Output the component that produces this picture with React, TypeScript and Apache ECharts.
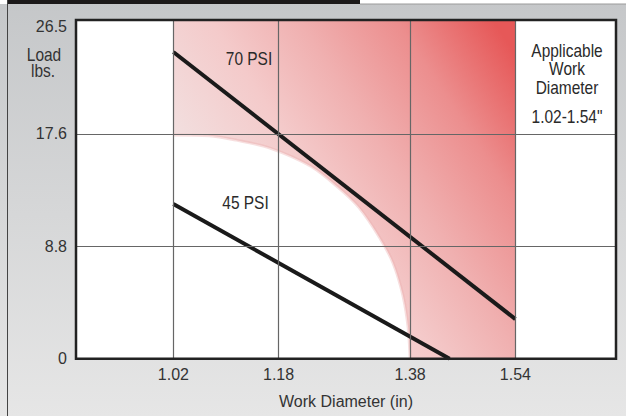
import React, { useEffect, useRef } from "react";
import * as echarts from "echarts";

const X_TICKS = [1.02, 1.18, 1.38, 1.54];
const Y_TICKS = [0, 8.8, 17.6, 26.5];
const X_GRID = [1.02, 1.18, 1.38, 1.54];
const Y_GRID = [8.8, 17.6];
const RANGE = [1.02, 1.54];
const PSI70: number[][] = [[1.02, 24.0], [1.54, 3.1]];
const PSI45: number[][] = [[1.02, 12.1], [1.44, 0]];
const CUTOUT: number[][] = [
  [1.02, 17.5], [1.075, 17.45], [1.116, 17.1], [1.167, 16.48], [1.229, 15.06],
  [1.271, 13.39], [1.302, 11.84], [1.333, 9.53], [1.354, 7.49], [1.369, 4.96],
  [1.377, 2.44], [1.38, 0],
];
const X_NAME = "Work Diameter (in)";
const Y_NAME_LINES = ["Load", "lbs."];
const NOTE_LINES = ["Applicable", "Work", "Diameter"];
const NOTE_RANGE = '1.02-1.54"';

const FONT = "'Liberation Sans', Arial, sans-serif";
const SX = 0.86;

export default function App() {
  const ref = useRef<HTMLDivElement>(null);
  useEffect(() => {
    const chart = echarts.init(ref.current!, null, { renderer: "svg" });
    const L = 76, R = 616, T = 20, B = 358.7;
    const txt = (s: string, x: number, y: number, color = "#2a2a2a") => ({
      type: "text", z: 100, silent: true, x, y, scaleX: SX,
      style: { text: s, font: `18px ${FONT}`, fill: color, align: "center", verticalAlign: "middle" },
    });
    chart.setOption({
      animation: false,
      textStyle: { fontFamily: FONT },
      grid: { left: L, right: 626 - R, top: T, bottom: 416 - B },
      xAxis: {
        type: "value", min: 0.872, max: 1.693,
        axisLine: { show: false }, axisTick: { show: false }, splitLine: { show: false },
        axisLabel: {
          customValues: X_TICKS, formatter: (v: number) => v.toFixed(2),
          fontSize: 16, color: "#333", fontFamily: FONT, margin: 8,
        },
        name: X_NAME, nameLocation: "middle", nameGap: 35,
        nameTextStyle: { fontSize: 16, color: "#333", fontFamily: FONT },
      },
      yAxis: {
        type: "value", min: 0, max: 26.5,
        axisLine: { show: false }, axisTick: { show: false }, splitLine: { show: false },
        axisLabel: {
          customValues: Y_TICKS,
          formatter: (v: number) => (v === 0 ? "0" : v === 26.5 ? "{top|26.5}" : v.toFixed(1)),
          fontSize: 16, color: "#333", fontFamily: FONT, margin: 9,
          rich: { top: { fontSize: 16, color: "#333", fontFamily: FONT, padding: [12, 0, 0, 0] } },
        },
      },
      graphic: [
        { type: "rect", z: -10, silent: true, shape: { x: 0, y: 0, width: 626, height: 416 },
          style: { fill: new echarts.graphic.LinearGradient(0, 0, 0, 1, [
            { offset: 0, color: "#c5c7c9" }, { offset: 1, color: "#e6e6e6" }]) } },
        { type: "rect", z: -9, silent: true, shape: { x: 0, y: 0, width: 626, height: 4 }, style: { fill: "#ffffff" } },
        { type: "rect", z: -9, silent: true, shape: { x: 8, y: 0, width: 352, height: 4 }, style: { fill: "#1c1a1a" } },
        { type: "line", z: -9, silent: true, shape: { x1: 360, y1: 4, x2: 626, y2: 4 }, style: { stroke: "#9a9a9a", lineWidth: 1 } },
        { type: "line", z: -9, silent: true, shape: { x1: 7.5, y1: 0, x2: 7.5, y2: 416 }, style: { stroke: "#444", lineWidth: 1 } },
        { type: "rect", z: -8, silent: true, shape: { x: L, y: T, width: R - L, height: B - T }, style: { fill: "#ffffff" } },
        { type: "rect", z: 100, silent: true, shape: { x: L, y: T, width: R - L, height: B - T },
          style: { fill: "none", stroke: "#222", lineWidth: 2.5 } },
        txt(Y_NAME_LINES[0], 44, 55, "#333"),
        txt(Y_NAME_LINES[1], 43, 71, "#333"),
        txt("70 PSI", 249, 59),
        txt("45 PSI", 245.5, 203),
        txt(NOTE_LINES[0], 567, 51),
        txt(NOTE_LINES[1], 567, 69.5),
        txt(NOTE_LINES[2], 567, 88),
        txt(NOTE_RANGE, 567, 117),
      ],
      series: [
        {
          type: "line", data: [], z: 1, silent: true,
          markArea: {
            silent: true,
            itemStyle: {
              color: new echarts.graphic.LinearGradient(0, 0.75, 1, 0.1, [
                { offset: 0, color: "#f2eeee" },
                { offset: 0.2, color: "#f2dede" },
                { offset: 0.42, color: "#f4caca" },
                { offset: 0.6, color: "#f0b0b0" },
                { offset: 0.8, color: "#ec8e8e" },
                { offset: 1, color: "#e65858" },
              ]),
            },
            data: [[{ xAxis: RANGE[0] }, { xAxis: RANGE[1] }]],
          },
        },
        {
          type: "line", data: CUTOUT, z: 2, silent: true, symbol: "none", smooth: 0.3,
          lineStyle: { color: "rgba(236,175,175,0.4)", width: 3 },
          areaStyle: { color: "#ffffff", opacity: 1 },
        },
        {
          type: "line", data: [], z: 3, silent: true,
          markLine: {
            silent: true, symbol: "none", label: { show: false },
            lineStyle: { color: "#666", width: 1.2, type: "solid" },
            data: [...X_GRID.map((x) => ({ xAxis: x })), ...Y_GRID.map((y) => ({ yAxis: y }))],
          },
        },
        { type: "line", data: PSI70, z: 4, symbol: "none", lineStyle: { color: "#1a1a1a", width: 4 } },
        { type: "line", data: PSI45, z: 4, symbol: "none", lineStyle: { color: "#1a1a1a", width: 4 } },
      ],
    });
    return () => chart.dispose();
  }, []);
  return <div ref={ref} style={{ position: "absolute", left: 0, top: 0, width: 626, height: 416 }} />;
}
